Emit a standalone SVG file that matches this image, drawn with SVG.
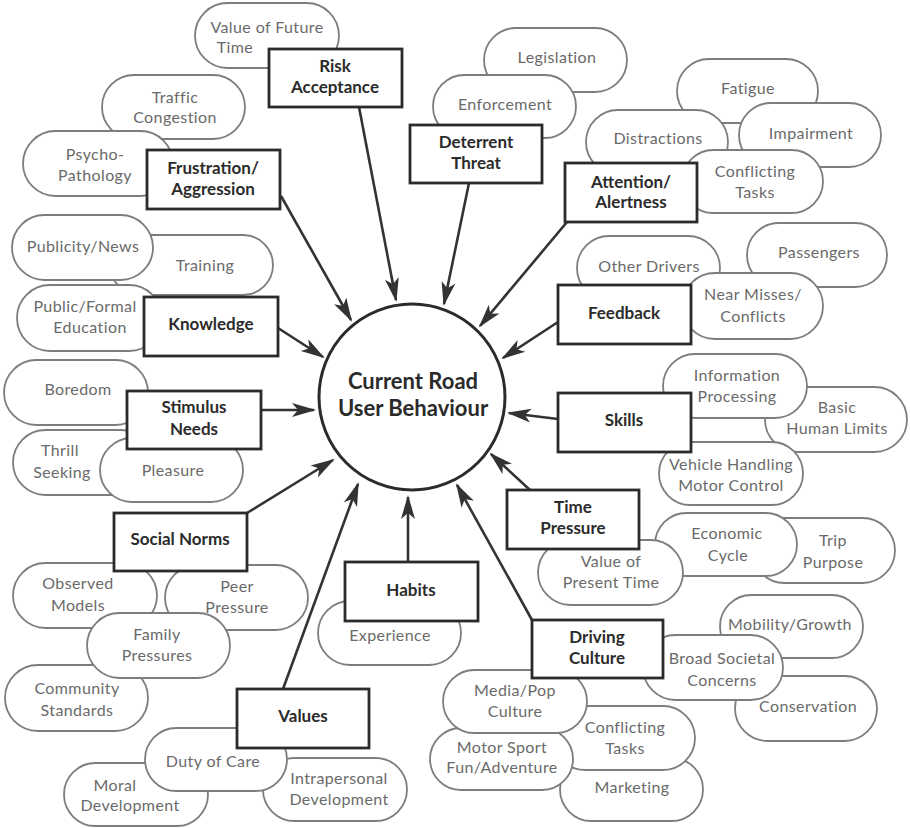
<svg xmlns="http://www.w3.org/2000/svg" width="910" height="828" viewBox="0 0 910 828">
<style>
.pill rect{fill:#fff;stroke:#7d7d7d;stroke-width:1.8}
.pill text{font-family:Lato,"Open Sans","DejaVu Sans",sans-serif;font-size:16px;fill:#6a6a6a;text-anchor:middle;letter-spacing:0.4px}
.box rect{fill:#fff;stroke:#2b2b2b;stroke-width:2.8}
.box text{font-family:Lato,"Open Sans","DejaVu Sans",sans-serif;font-size:17px;font-weight:bold;fill:#2b2b2b;text-anchor:middle}
.conn line{stroke:#333;stroke-width:2.6;marker-end:url(#ah)}
.center circle{fill:#fff;stroke:#2b2b2b;stroke-width:3}
.center text{font-family:Lato,"Open Sans","DejaVu Sans",sans-serif;font-size:22px;font-weight:bold;fill:#2b2b2b;text-anchor:middle}
</style>
<defs>
<marker id="ah" markerUnits="userSpaceOnUse" viewBox="-23 -8 27 16" markerWidth="27" markerHeight="16" refX="0" refY="0" orient="auto">
<path d="M2,0 L-22,-7 L-16,0 L-22,7 Z" fill="#333"/>
</marker>
</defs>
<rect width="910" height="828" fill="#fff"/>

<!-- pills -->
<g id="p-value-future" class="pill"><rect x="195" y="3" width="144" height="65" rx="32.5"/><text x="267" y="33">Value of Future</text><text x="235" y="53">Time</text></g>
<g id="p-traffic" class="pill"><rect x="102" y="75" width="143" height="64" rx="32"/><text x="175" y="103">Traffic</text><text x="175" y="123">Congestion</text></g>
<g id="p-psycho" class="pill"><rect x="23" y="131" width="150" height="65" rx="32.5"/><text x="95" y="160">Psycho-</text><text x="95" y="181">Pathology</text></g>
<g id="p-training" class="pill"><rect x="110" y="235" width="163" height="60" rx="30"/><text x="205" y="271">Training</text></g>
<g id="p-publicity" class="pill"><rect x="12" y="215" width="141" height="65" rx="32.5"/><text x="83" y="252">Publicity/News</text></g>
<g id="p-public" class="pill"><rect x="17" y="285" width="145" height="66" rx="33"/><text x="85" y="312">Public/Formal</text><text x="90" y="333">Education</text></g>
<g id="p-boredom" class="pill"><rect x="4" y="360" width="144" height="65" rx="32.5"/><text x="78" y="395">Boredom</text></g>
<g id="p-thrill" class="pill"><rect x="13" y="430" width="140" height="65" rx="32.5"/><text x="60" y="456">Thrill</text><text x="62" y="478">Seeking</text></g>
<g id="p-pleasure" class="pill"><rect x="100" y="438" width="143" height="64" rx="32"/><text x="173" y="476">Pleasure</text></g>
<g id="p-observed" class="pill"><rect x="13" y="563" width="144" height="65" rx="32.5"/><text x="78" y="589">Observed</text><text x="78" y="611">Models</text></g>
<g id="p-peer" class="pill"><rect x="165" y="565" width="143" height="65" rx="32.5"/><text x="237" y="592">Peer</text><text x="237" y="613">Pressure</text></g>
<g id="p-community" class="pill"><rect x="5" y="665" width="143" height="66" rx="33"/><text x="77" y="694">Community</text><text x="77" y="716">Standards</text></g>
<g id="p-family" class="pill"><rect x="87" y="613" width="143" height="65" rx="32.5"/><text x="157" y="640">Family</text><text x="157" y="661">Pressures</text></g>
<g id="p-moral" class="pill"><rect x="64" y="763" width="144" height="63" rx="31.5"/><text x="115" y="791">Moral</text><text x="130" y="811">Development</text></g>
<g id="p-intra" class="pill"><rect x="263" y="758" width="144" height="63" rx="31.5"/><text x="339" y="784">Intrapersonal</text><text x="339" y="805">Development</text></g>
<g id="p-duty" class="pill"><rect x="145" y="728" width="142" height="63" rx="31.5"/><text x="213" y="767">Duty of Care</text></g>
<g id="p-experience" class="pill"><rect x="318" y="601" width="143" height="64" rx="32"/><text x="390" y="641">Experience</text></g>
<g id="p-trip" class="pill"><rect x="752" y="518" width="143" height="65" rx="32.5"/><text x="833" y="546">Trip</text><text x="833" y="568">Purpose</text></g>
<g id="p-economic" class="pill"><rect x="655" y="513" width="142" height="63" rx="31.5"/><text x="727" y="539">Economic</text><text x="728" y="561">Cycle</text></g>
<g id="p-value-present" class="pill"><rect x="538" y="540" width="145" height="65" rx="32.5"/><text x="611" y="567">Value of</text><text x="611" y="588">Present Time</text></g>
<g id="p-mobility" class="pill"><rect x="720" y="595" width="143" height="63" rx="31.5"/><text x="790" y="630">Mobility/Growth</text></g>
<g id="p-conservation" class="pill"><rect x="735" y="676" width="142" height="65" rx="32.5"/><text x="808" y="712">Conservation</text></g>
<g id="p-broad" class="pill"><rect x="643" y="635" width="140" height="65" rx="32.5"/><text x="722" y="664">Broad Societal</text><text x="722" y="686">Concerns</text></g>
<g id="p-marketing" class="pill"><rect x="560" y="758" width="143" height="63" rx="31.5"/><text x="632" y="793">Marketing</text></g>
<g id="p-conflicting2" class="pill"><rect x="553" y="706" width="142" height="64" rx="32"/><text x="625" y="733">Conflicting</text><text x="625" y="754">Tasks</text></g>
<g id="p-motor" class="pill"><rect x="430" y="728" width="143" height="62" rx="31"/><text x="502" y="753">Motor Sport</text><text x="502" y="773">Fun/Adventure</text></g>
<g id="p-media" class="pill"><rect x="443" y="670" width="144" height="63" rx="31.5"/><text x="515" y="696">Media/Pop</text><text x="515" y="717">Culture</text></g>
<g id="p-legislation" class="pill"><rect x="484" y="28" width="143" height="64" rx="32"/><text x="557" y="63">Legislation</text></g>
<g id="p-enforcement" class="pill"><rect x="433" y="75" width="143" height="63" rx="31.5"/><text x="505" y="110">Enforcement</text></g>
<g id="p-fatigue" class="pill"><rect x="677" y="59" width="141" height="64" rx="32"/><text x="748" y="94">Fatigue</text></g>
<g id="p-distractions" class="pill"><rect x="586" y="110" width="142" height="64" rx="32"/><text x="658" y="144">Distractions</text></g>
<g id="p-impairment" class="pill"><rect x="739" y="103" width="142" height="64" rx="32"/><text x="811" y="139">Impairment</text></g>
<g id="p-conflicting1" class="pill"><rect x="682" y="150" width="141" height="63" rx="31.5"/><text x="755" y="177">Conflicting</text><text x="755" y="198">Tasks</text></g>
<g id="p-other" class="pill"><rect x="577" y="236" width="143" height="64" rx="32"/><text x="649" y="272">Other Drivers</text></g>
<g id="p-passengers" class="pill"><rect x="747" y="223" width="140" height="64" rx="32"/><text x="819" y="258">Passengers</text></g>
<g id="p-near" class="pill"><rect x="682" y="273" width="141" height="66" rx="33"/><text x="753" y="300">Near Misses/</text><text x="753" y="322">Conflicts</text></g>
<g id="p-basic" class="pill"><rect x="765" y="387" width="142" height="65" rx="32.5"/><text x="837" y="413">Basic</text><text x="837" y="434">Human Limits</text></g>
<g id="p-info" class="pill"><rect x="663" y="354" width="144" height="64" rx="32"/><text x="737" y="381">Information</text><text x="737" y="402">Processing</text></g>
<g id="p-vehicle" class="pill"><rect x="659" y="442" width="144" height="63" rx="31.5"/><text x="731" y="470">Vehicle Handling</text><text x="731" y="491">Motor Control</text></g>

<!-- connectors -->
<g id="connectors" class="conn">
<line x1="359" y1="107" x2="396" y2="300"/>
<line x1="469" y1="183" x2="444" y2="304"/>
<line x1="567" y1="222" x2="480" y2="326"/>
<line x1="281" y1="196" x2="351" y2="320"/>
<line x1="278" y1="328" x2="323" y2="357"/>
<line x1="261" y1="410" x2="314" y2="410"/>
<line x1="247" y1="513" x2="333" y2="460"/>
<line x1="283" y1="689" x2="358" y2="484"/>
<line x1="408" y1="562" x2="408" y2="497"/>
<line x1="532" y1="620" x2="457" y2="485"/>
<line x1="530" y1="490" x2="491" y2="454"/>
<line x1="558" y1="419" x2="509" y2="413"/>
<line x1="558" y1="322" x2="503" y2="358"/>
</g>

<!-- boxes -->
<g id="b-risk" class="box"><rect x="269" y="49" width="133" height="58"/><text x="335" y="72">Risk</text><text x="335" y="93">Acceptance</text></g>
<g id="b-deterrent" class="box"><rect x="410" y="125" width="132" height="58"/><text x="476" y="148">Deterrent</text><text x="476" y="169">Threat</text></g>
<g id="b-attention" class="box"><rect x="565" y="163" width="132" height="59"/><text x="631" y="188">Attention/</text><text x="631" y="208">Alertness</text></g>
<g id="b-frustration" class="box"><rect x="147" y="150" width="133" height="59"/><text x="213" y="174">Frustration/</text><text x="213" y="195">Aggression</text></g>
<g id="b-knowledge" class="box"><rect x="144" y="297" width="134" height="59"/><text x="211" y="330">Knowledge</text></g>
<g id="b-stimulus" class="box"><rect x="127" y="391" width="134" height="58"/><text x="194" y="413">Stimulus</text><text x="194" y="435">Needs</text></g>
<g id="b-social" class="box"><rect x="114" y="513" width="133" height="58"/><text x="180" y="545">Social Norms</text></g>
<g id="b-values" class="box"><rect x="237" y="689" width="132" height="59"/><text x="303" y="722">Values</text></g>
<g id="b-habits" class="box"><rect x="345" y="562" width="133" height="59"/><text x="411" y="596">Habits</text></g>
<g id="b-driving" class="box"><rect x="532" y="620" width="131" height="58"/><text x="597" y="643">Driving</text><text x="597" y="664">Culture</text></g>
<g id="b-time" class="box"><rect x="507" y="490" width="132" height="59"/><text x="573" y="513">Time</text><text x="573" y="534">Pressure</text></g>
<g id="b-skills" class="box"><rect x="558" y="393" width="133" height="59"/><text x="624" y="426">Skills</text></g>
<g id="b-feedback" class="box"><rect x="558" y="285" width="133" height="59"/><text x="624" y="319">Feedback</text></g>

<g id="center" class="center"><circle cx="412" cy="397" r="93"/><text x="413" y="389">Current Road</text><text x="413" y="416">User Behaviour</text></g>
</svg>
